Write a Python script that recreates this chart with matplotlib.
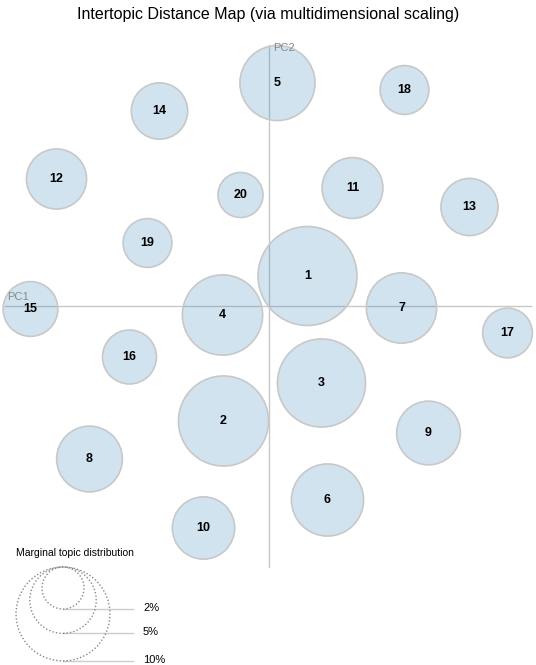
import numpy as np
import matplotlib
matplotlib.use("Agg")
import matplotlib.pyplot as plt
from matplotlib.patches import Circle

plt.rcParams["font.family"] = ["Liberation Sans", "DejaVu Sans"]

# topic positions on the two principal components and marginal topic share (%)
topics = list(range(1, 21))
pc1 = [0.039, -0.045, 0.053, -0.046, 0.009, 0.059, 0.133, -0.179, 0.160, -0.065,
       0.084, -0.212, 0.201, -0.109, -0.238, -0.139, 0.239, 0.136, -0.121, -0.028]
pc2 = [0.030, -0.115, -0.077, -0.009, 0.223, -0.194, -0.002, -0.153, -0.127, -0.222,
       0.118, 0.127, 0.099, 0.195, -0.003, -0.051, -0.027, 0.216, 0.063, 0.111]
share = [11.1, 9.2, 8.8, 7.3, 6.4, 5.9, 5.6, 4.9, 4.6, 4.4,
         4.2, 4.1, 3.7, 3.6, 3.4, 3.3, 2.8, 2.7, 2.7, 2.3]

legend_pcts = [2, 5, 10]
legend_labels = ["2%", "5%", "10%"]

# radius per sqrt(percent), in PC units
r_scale = 0.01485

fig = plt.figure(figsize=(5.36, 6.65), dpi=100)
ax = fig.add_axes([0, 0, 1, 1])
ax.set_xlim(-0.2685, 0.2675)
ax.set_ylim(-0.359, 0.306)
ax.set_aspect("equal")
ax.axis("off")

# axis cross
ax.plot([-0.2635, 0.2625], [0, 0], color="#c8c8c8", lw=1, zorder=1)
ax.plot([0, 0], [-0.261, 0.261], color="#c8c8c8", lw=1, zorder=1)
ax.text(-0.2615, 0.006, "PC1", fontsize=8, color="#888888", ha="left", va="baseline")
ax.text(0.0045, 0.255, "PC2", fontsize=8, color="#888888", ha="left", va="baseline")

for t, x, y, s in zip(topics, pc1, pc2, share):
    r = r_scale * np.sqrt(s)
    ax.add_patch(Circle((x, y), r, facecolor=(0.122, 0.467, 0.706, 0.2),
                        edgecolor="#c8c8c8", lw=1.2, zorder=2))
    ax.text(x, y, str(t), fontsize=9, fontweight="bold", ha="center", va="center", zorder=3)

# legend for circle sizes
lx, ltop = -0.2055, -0.261
ax.text(-0.253, -0.2475, "Marginal topic distribution", fontsize=7.5, ha="left", va="center")
for p, lab in zip(legend_pcts, legend_labels):
    r = r_scale * np.sqrt(p)
    cy = ltop - r
    ax.plot([lx, -0.1355], [cy - r, cy - r], color="#cccccc", lw=1, zorder=1)
    ax.add_patch(Circle((lx, cy), r, fill=False, edgecolor="#888888", lw=1,
                        linestyle=(0, (1, 1.5)), zorder=2))
    ax.text(-0.1255, cy - r + 0.001, lab, fontsize=8, ha="left", va="center")

fig.text(0.5, 1 - 15 / 665, "Intertopic Distance Map (via multidimensional scaling)",
         fontsize=11.5, ha="center", va="center")

fig.savefig("out.png", dpi=100)
